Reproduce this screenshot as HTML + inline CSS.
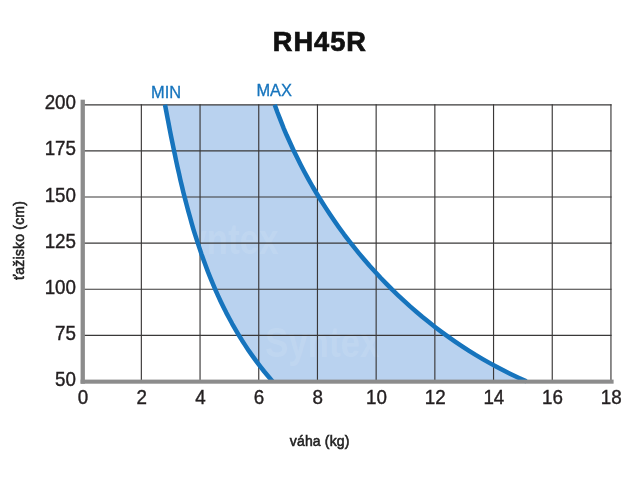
<!DOCTYPE html>
<html><head><meta charset="utf-8"><title>RH45R</title>
<style>
html,body{margin:0;padding:0;background:#fff;}
body{width:640px;height:480px;overflow:hidden;font-family:"Liberation Sans",sans-serif;}
svg{display:block;}
text{font-family:"Liberation Sans",sans-serif;}
.t{will-change:transform;}
</style></head><body>
<svg width="640" height="480" viewBox="0 0 640 480">
<rect width="640" height="480" fill="#ffffff"/>
<defs><clipPath id="fc"><path d="M165.0,104.8 L166.2,111.0 L167.4,117.3 L168.6,123.5 L169.8,129.8 L171.0,136.0 L172.3,142.3 L173.6,148.6 L174.9,154.8 L176.2,161.1 L177.6,167.4 L179.0,173.6 L180.4,179.9 L181.9,186.1 L183.4,192.4 L185.0,198.6 L186.6,204.8 L188.3,211.1 L190.0,217.2 L191.7,223.4 L193.5,229.6 L195.4,235.7 L197.4,241.8 L199.4,247.9 L201.4,253.9 L203.6,260.0 L205.8,266.0 L208.0,271.9 L210.4,277.8 L212.8,283.7 L215.3,289.6 L217.9,295.4 L220.6,301.2 L223.4,306.9 L226.2,312.6 L229.2,318.2 L232.2,323.8 L235.4,329.3 L238.6,334.8 L241.9,340.2 L245.4,345.6 L248.9,350.9 L252.6,356.1 L256.4,361.3 L260.2,366.4 L264.2,371.5 L268.4,376.5 L272.6,381.4 L526.5,381.4 L519.0,378.0 L511.6,374.5 L504.2,370.8 L497.0,367.0 L489.8,363.1 L482.7,359.1 L475.6,354.9 L468.7,350.6 L461.8,346.1 L455.1,341.6 L448.4,336.9 L441.8,332.1 L435.3,327.2 L428.8,322.1 L422.5,317.0 L416.3,311.7 L410.1,306.4 L404.1,300.9 L398.1,295.3 L392.2,289.7 L386.5,283.9 L380.8,278.0 L375.3,272.0 L369.8,266.0 L364.4,259.8 L359.2,253.6 L354.0,247.2 L349.0,240.8 L344.0,234.3 L339.2,227.7 L334.5,221.0 L329.9,214.2 L325.4,207.4 L321.0,200.5 L316.7,193.5 L312.5,186.5 L308.5,179.4 L304.6,172.2 L300.8,164.9 L297.1,157.6 L293.5,150.2 L290.1,142.8 L286.7,135.3 L283.5,127.8 L280.5,120.1 L277.5,112.5 L274.7,104.8 Z"/></clipPath></defs>
<path d="M165.0,104.8 L166.2,111.0 L167.4,117.3 L168.6,123.5 L169.8,129.8 L171.0,136.0 L172.3,142.3 L173.6,148.6 L174.9,154.8 L176.2,161.1 L177.6,167.4 L179.0,173.6 L180.4,179.9 L181.9,186.1 L183.4,192.4 L185.0,198.6 L186.6,204.8 L188.3,211.1 L190.0,217.2 L191.7,223.4 L193.5,229.6 L195.4,235.7 L197.4,241.8 L199.4,247.9 L201.4,253.9 L203.6,260.0 L205.8,266.0 L208.0,271.9 L210.4,277.8 L212.8,283.7 L215.3,289.6 L217.9,295.4 L220.6,301.2 L223.4,306.9 L226.2,312.6 L229.2,318.2 L232.2,323.8 L235.4,329.3 L238.6,334.8 L241.9,340.2 L245.4,345.6 L248.9,350.9 L252.6,356.1 L256.4,361.3 L260.2,366.4 L264.2,371.5 L268.4,376.5 L272.6,381.4 L526.5,381.4 L519.0,378.0 L511.6,374.5 L504.2,370.8 L497.0,367.0 L489.8,363.1 L482.7,359.1 L475.6,354.9 L468.7,350.6 L461.8,346.1 L455.1,341.6 L448.4,336.9 L441.8,332.1 L435.3,327.2 L428.8,322.1 L422.5,317.0 L416.3,311.7 L410.1,306.4 L404.1,300.9 L398.1,295.3 L392.2,289.7 L386.5,283.9 L380.8,278.0 L375.3,272.0 L369.8,266.0 L364.4,259.8 L359.2,253.6 L354.0,247.2 L349.0,240.8 L344.0,234.3 L339.2,227.7 L334.5,221.0 L329.9,214.2 L325.4,207.4 L321.0,200.5 L316.7,193.5 L312.5,186.5 L308.5,179.4 L304.6,172.2 L300.8,164.9 L297.1,157.6 L293.5,150.2 L290.1,142.8 L286.7,135.3 L283.5,127.8 L280.5,120.1 L277.5,112.5 L274.7,104.8 Z" fill="#b9d2ef"/>
<g clip-path="url(#fc)" fill="#ffffff" fill-opacity="0.11" font-weight="bold" font-size="42">
<text transform="translate(265,357) scale(0.83,1)">Syntex</text>
<text transform="translate(164,254) scale(0.83,1)">Syntex</text>
</g>
<line x1="141.35" y1="104.20" x2="141.35" y2="381.40" stroke="#3a3838" stroke-width="1.15"/>
<line x1="200.05" y1="104.20" x2="200.05" y2="381.40" stroke="#3a3838" stroke-width="1.15"/>
<line x1="258.75" y1="104.20" x2="258.75" y2="381.40" stroke="#3a3838" stroke-width="1.15"/>
<line x1="317.45" y1="104.20" x2="317.45" y2="381.40" stroke="#3a3838" stroke-width="1.15"/>
<line x1="376.15" y1="104.20" x2="376.15" y2="381.40" stroke="#3a3838" stroke-width="1.15"/>
<line x1="434.85" y1="104.20" x2="434.85" y2="381.40" stroke="#3a3838" stroke-width="1.15"/>
<line x1="493.55" y1="104.20" x2="493.55" y2="381.40" stroke="#3a3838" stroke-width="1.15"/>
<line x1="552.25" y1="104.20" x2="552.25" y2="381.40" stroke="#3a3838" stroke-width="1.15"/>
<line x1="610.95" y1="104.20" x2="610.95" y2="381.40" stroke="#3a3838" stroke-width="1.15"/>
<line x1="82.65" y1="104.80" x2="611.55" y2="104.80" stroke="#3a3838" stroke-width="1.15"/>
<line x1="82.65" y1="150.90" x2="611.55" y2="150.90" stroke="#3a3838" stroke-width="1.15"/>
<line x1="82.65" y1="197.00" x2="611.55" y2="197.00" stroke="#3a3838" stroke-width="1.15"/>
<line x1="82.65" y1="243.10" x2="611.55" y2="243.10" stroke="#3a3838" stroke-width="1.15"/>
<line x1="82.65" y1="289.20" x2="611.55" y2="289.20" stroke="#3a3838" stroke-width="1.15"/>
<line x1="82.65" y1="335.30" x2="611.55" y2="335.30" stroke="#3a3838" stroke-width="1.15"/>
<g fill="none" stroke="#1674bd" stroke-width="4.5" stroke-linejoin="round">
<path d="M165.0,104.8 L166.2,111.0 L167.4,117.3 L168.6,123.5 L169.8,129.8 L171.0,136.0 L172.3,142.3 L173.6,148.6 L174.9,154.8 L176.2,161.1 L177.6,167.4 L179.0,173.6 L180.4,179.9 L181.9,186.1 L183.4,192.4 L185.0,198.6 L186.6,204.8 L188.3,211.1 L190.0,217.2 L191.7,223.4 L193.5,229.6 L195.4,235.7 L197.4,241.8 L199.4,247.9 L201.4,253.9 L203.6,260.0 L205.8,266.0 L208.0,271.9 L210.4,277.8 L212.8,283.7 L215.3,289.6 L217.9,295.4 L220.6,301.2 L223.4,306.9 L226.2,312.6 L229.2,318.2 L232.2,323.8 L235.4,329.3 L238.6,334.8 L241.9,340.2 L245.4,345.6 L248.9,350.9 L252.6,356.1 L256.4,361.3 L260.2,366.4 L264.2,371.5 L268.4,376.5 L272.6,381.4"/>
<path d="M274.7,104.8 L277.5,112.5 L280.5,120.1 L283.5,127.8 L286.7,135.3 L290.1,142.8 L293.5,150.2 L297.1,157.6 L300.8,164.9 L304.6,172.2 L308.5,179.4 L312.5,186.5 L316.7,193.5 L321.0,200.5 L325.4,207.4 L329.9,214.2 L334.5,221.0 L339.2,227.7 L344.0,234.3 L349.0,240.8 L354.0,247.2 L359.2,253.6 L364.4,259.8 L369.8,266.0 L375.3,272.0 L380.8,278.0 L386.5,283.9 L392.2,289.7 L398.1,295.3 L404.1,300.9 L410.1,306.4 L416.3,311.7 L422.5,317.0 L428.8,322.1 L435.3,327.2 L441.8,332.1 L448.4,336.9 L455.1,341.6 L461.8,346.1 L468.7,350.6 L475.6,354.9 L482.7,359.1 L489.8,363.1 L497.0,367.0 L504.2,370.8 L511.6,374.5 L519.0,378.0 L526.5,381.4"/>
</g>
<rect x="80.6" y="99.7" width="4.3" height="284" fill="#8c8c8c"/>
<rect x="80.6" y="379.6" width="533" height="4.1" fill="#8c8c8c"/>
<g class="t">
<text x="319.9" y="51.1" text-anchor="middle" font-size="27.2" font-weight="bold" letter-spacing="1.0" fill="#111" stroke="#111" stroke-width="0.7">RH45R</text>
<text x="151.0" y="98" font-size="16.4" fill="#1674bd" stroke="#1674bd" stroke-width="0.3">MIN</text>
<text x="256.4" y="96.3" font-size="16.4" fill="#1674bd" stroke="#1674bd" stroke-width="0.3">MAX</text>
<text transform="translate(76.00,109.35) scale(0.94,1)" text-anchor="end" font-size="20" fill="#231f20" stroke="#231f20" stroke-width="0.4">200</text>
<text transform="translate(76.00,155.45) scale(0.94,1)" text-anchor="end" font-size="20" fill="#231f20" stroke="#231f20" stroke-width="0.4">175</text>
<text transform="translate(76.00,201.55) scale(0.94,1)" text-anchor="end" font-size="20" fill="#231f20" stroke="#231f20" stroke-width="0.4">150</text>
<text transform="translate(76.00,247.65) scale(0.94,1)" text-anchor="end" font-size="20" fill="#231f20" stroke="#231f20" stroke-width="0.4">125</text>
<text transform="translate(76.00,293.75) scale(0.94,1)" text-anchor="end" font-size="20" fill="#231f20" stroke="#231f20" stroke-width="0.4">100</text>
<text transform="translate(76.00,339.85) scale(0.94,1)" text-anchor="end" font-size="20" fill="#231f20" stroke="#231f20" stroke-width="0.4">75</text>
<text transform="translate(76.00,385.95) scale(0.94,1)" text-anchor="end" font-size="20" fill="#231f20" stroke="#231f20" stroke-width="0.4">50</text>
<text transform="translate(82.95,404.00) scale(0.94,1)" text-anchor="middle" font-size="20" fill="#231f20" stroke="#231f20" stroke-width="0.4">0</text>
<text transform="translate(141.65,404.00) scale(0.94,1)" text-anchor="middle" font-size="20" fill="#231f20" stroke="#231f20" stroke-width="0.4">2</text>
<text transform="translate(200.35,404.00) scale(0.94,1)" text-anchor="middle" font-size="20" fill="#231f20" stroke="#231f20" stroke-width="0.4">4</text>
<text transform="translate(259.05,404.00) scale(0.94,1)" text-anchor="middle" font-size="20" fill="#231f20" stroke="#231f20" stroke-width="0.4">6</text>
<text transform="translate(317.75,404.00) scale(0.94,1)" text-anchor="middle" font-size="20" fill="#231f20" stroke="#231f20" stroke-width="0.4">8</text>
<text transform="translate(376.45,404.00) scale(0.94,1)" text-anchor="middle" font-size="20" fill="#231f20" stroke="#231f20" stroke-width="0.4">10</text>
<text transform="translate(435.15,404.00) scale(0.94,1)" text-anchor="middle" font-size="20" fill="#231f20" stroke="#231f20" stroke-width="0.4">12</text>
<text transform="translate(493.85,404.00) scale(0.94,1)" text-anchor="middle" font-size="20" fill="#231f20" stroke="#231f20" stroke-width="0.4">14</text>
<text transform="translate(552.55,404.00) scale(0.94,1)" text-anchor="middle" font-size="20" fill="#231f20" stroke="#231f20" stroke-width="0.4">16</text>
<text transform="translate(611.25,404.00) scale(0.94,1)" text-anchor="middle" font-size="20" fill="#231f20" stroke="#231f20" stroke-width="0.4">18</text>
<text x="319.7" y="445.5" text-anchor="middle" font-size="14" letter-spacing="0.15" fill="#222" stroke="#222" stroke-width="0.55">váha (kg)</text>
<text transform="translate(24.2,240.5) rotate(-90)" text-anchor="middle" font-size="14" letter-spacing="0.2" fill="#222" stroke="#222" stroke-width="0.55">ťažisko (cm)</text>
</g>
</svg>
</body></html>
